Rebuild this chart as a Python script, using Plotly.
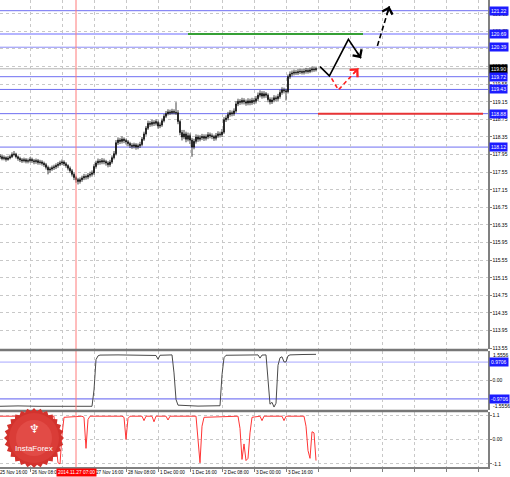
import math
import plotly.graph_objects as go

# ---------------- data (H1 bars, index 0 = 25 Nov 16:00) ----------------
bar_index = list(range(1, 160))
bar_open = [
    117.92, 117.90, 117.86, 117.88, 117.84, 117.87, 117.90, 117.95, 117.96, 117.90,
    117.86, 117.83, 117.81, 117.83, 117.80, 117.81, 117.84, 117.81, 117.79, 117.81,
    117.77, 117.78, 117.75, 117.72, 117.66, 117.60, 117.62, 117.65, 117.67, 117.70,
    117.73, 117.76, 117.78, 117.74, 117.70, 117.64, 117.58, 117.50, 117.43, 117.38,
    117.34, 117.38, 117.42, 117.45, 117.44, 117.48, 117.50, 117.53, 117.68, 117.76,
    117.80, 117.78, 117.81, 117.79, 117.76, 117.72, 117.78, 117.88, 117.97, 118.22,
    118.28, 118.25, 118.30, 118.27, 118.24, 118.20, 118.16, 118.14, 118.17, 118.12,
    118.15, 118.18, 118.30, 118.42, 118.55, 118.66, 118.64, 118.68, 118.66, 118.68,
    118.60, 118.62, 118.72, 118.82, 118.88, 118.92, 118.90, 118.93, 118.91, 118.90,
    118.70, 118.45, 118.35, 118.42, 118.30, 118.38, 118.28, 118.12, 118.25, 118.35,
    118.30, 118.33, 118.36, 118.32, 118.35, 118.40, 118.38, 118.36, 118.32, 118.38,
    118.42, 118.40, 118.46, 118.74, 118.78, 118.86, 118.90, 118.88, 118.94, 119.10,
    119.16, 119.14, 119.18, 119.15, 119.12, 119.17, 119.13, 119.18, 119.16, 119.22,
    119.30, 119.34, 119.28, 119.33, 119.30, 119.20, 119.15, 119.19, 119.24, 119.22,
    119.27, 119.36, 119.42, 119.40, 119.38, 119.72, 119.78, 119.80, 119.82, 119.81,
    119.83, 119.84, 119.82, 119.84, 119.86, 119.84, 119.87, 119.89, 119.88,
]
bar_high = [
    117.96, 117.94, 117.93, 117.91, 117.92, 117.95, 118.00, 118.03, 117.99, 117.93,
    117.90, 117.87, 117.88, 117.87, 117.86, 117.89, 117.88, 117.85, 117.86, 117.85,
    117.83, 117.82, 117.79, 117.76, 117.70, 117.67, 117.70, 117.72, 117.75, 117.78,
    117.81, 117.84, 117.82, 117.78, 117.73, 117.68, 117.62, 117.54, 117.47, 117.42,
    117.43, 117.47, 117.51, 117.50, 117.53, 117.56, 117.59, 117.73, 117.81, 117.86,
    117.85, 117.87, 117.86, 117.83, 117.80, 117.83, 117.93, 118.03, 118.28, 118.34,
    118.33, 118.36, 118.34, 118.31, 118.28, 118.24, 118.21, 118.22, 118.21, 118.20,
    118.24, 118.35, 118.47, 118.60, 118.72, 118.71, 118.74, 118.73, 118.75, 118.72,
    118.68, 118.77, 118.87, 118.94, 118.98, 118.97, 118.99, 118.98, 119.14, 118.96,
    118.74, 118.51, 118.51, 118.47, 118.45, 118.43, 118.33, 118.31, 118.41, 118.40,
    118.39, 118.42, 118.41, 118.41, 118.46, 118.45, 118.43, 118.40, 118.44, 118.48,
    118.47, 118.53, 118.80, 118.84, 118.92, 118.96, 118.95, 119.00, 119.16, 119.22,
    119.21, 119.24, 119.23, 119.20, 119.23, 119.22, 119.24, 119.23, 119.28, 119.36,
    119.41, 119.39, 119.39, 119.37, 119.34, 119.25, 119.25, 119.30, 119.29, 119.33,
    119.42, 119.48, 119.47, 119.45, 119.77, 119.84, 119.86, 119.88, 119.87, 119.89,
    119.90, 119.89, 119.90, 119.92, 119.91, 119.93, 119.95, 119.94, 119.95,
]
bar_low = [
    117.85, 117.82, 117.82, 117.79, 117.81, 117.84, 117.87, 117.91, 117.86, 117.81,
    117.78, 117.76, 117.77, 117.75, 117.75, 117.77, 117.76, 117.73, 117.74, 117.72,
    117.72, 117.70, 117.67, 117.61, 117.50, 117.54, 117.58, 117.60, 117.62, 117.65,
    117.69, 117.71, 117.69, 117.65, 117.59, 117.53, 117.45, 117.37, 117.31, 117.27,
    117.29, 117.33, 117.37, 117.38, 117.39, 117.43, 117.45, 117.49, 117.63, 117.71,
    117.72, 117.73, 117.73, 117.70, 117.66, 117.67, 117.74, 117.84, 117.93, 118.17,
    118.19, 118.20, 118.21, 118.18, 118.14, 118.10, 118.08, 118.09, 118.06, 118.07,
    118.10, 118.14, 118.26, 118.38, 118.51, 118.58, 118.59, 118.60, 118.61, 118.54,
    118.55, 118.58, 118.68, 118.78, 118.84, 118.85, 118.86, 118.86, 118.85, 118.64,
    118.39, 118.27, 118.30, 118.23, 118.25, 118.19, 117.90, 118.07, 118.20, 118.24,
    118.25, 118.28, 118.26, 118.27, 118.30, 118.32, 118.30, 118.26, 118.27, 118.33,
    118.34, 118.35, 118.42, 118.69, 118.73, 118.81, 118.82, 118.83, 118.90, 119.05,
    119.08, 119.09, 119.09, 119.06, 119.07, 119.07, 119.08, 119.10, 119.11, 119.17,
    119.25, 119.22, 119.23, 119.24, 119.14, 119.09, 119.10, 119.14, 119.16, 119.17,
    119.22, 119.31, 119.34, 119.18, 119.34, 119.67, 119.73, 119.75, 119.76, 119.76,
    119.78, 119.77, 119.77, 119.79, 119.79, 119.80, 119.82, 119.83, 119.84,
]
bar_close = [
    117.90, 117.86, 117.88, 117.84, 117.87, 117.90, 117.95, 117.96, 117.90, 117.86,
    117.83, 117.81, 117.83, 117.80, 117.81, 117.84, 117.81, 117.79, 117.81, 117.77,
    117.78, 117.75, 117.72, 117.66, 117.60, 117.62, 117.65, 117.67, 117.70, 117.73,
    117.76, 117.78, 117.74, 117.70, 117.64, 117.58, 117.50, 117.43, 117.38, 117.34,
    117.38, 117.42, 117.45, 117.44, 117.48, 117.50, 117.53, 117.68, 117.76, 117.80,
    117.78, 117.81, 117.79, 117.76, 117.72, 117.78, 117.88, 117.97, 118.22, 118.28,
    118.25, 118.30, 118.27, 118.24, 118.20, 118.16, 118.14, 118.17, 118.12, 118.15,
    118.18, 118.30, 118.42, 118.55, 118.66, 118.64, 118.68, 118.66, 118.70, 118.60,
    118.62, 118.72, 118.82, 118.88, 118.92, 118.90, 118.93, 118.91, 118.90, 118.70,
    118.45, 118.35, 118.42, 118.30, 118.38, 118.28, 118.12, 118.25, 118.35, 118.30,
    118.33, 118.36, 118.32, 118.35, 118.40, 118.38, 118.36, 118.32, 118.38, 118.42,
    118.40, 118.46, 118.74, 118.78, 118.86, 118.90, 118.88, 118.94, 119.10, 119.16,
    119.14, 119.18, 119.15, 119.12, 119.17, 119.13, 119.18, 119.16, 119.22, 119.30,
    119.34, 119.28, 119.33, 119.30, 119.20, 119.15, 119.19, 119.24, 119.22, 119.27,
    119.36, 119.42, 119.40, 119.38, 119.72, 119.78, 119.80, 119.82, 119.81, 119.83,
    119.84, 119.82, 119.84, 119.86, 119.84, 119.87, 119.89, 119.88, 119.90,
]

price_ticks = [113.55, 113.95, 114.35, 114.75, 115.15, 115.55, 115.95, 116.35, 116.75, 117.15,
               117.55, 117.95, 118.35, 118.75, 119.15, 119.55, 119.95, 120.35, 120.75, 121.15]

level_prices = [121.22, 120.69, 120.39, 119.90, 119.72, 119.43, 118.88, 118.12]
level_colors = ["#6e6ef2", "#b4b4ff", "#8c8cf6", "#b4b4b4", "#6e6ef2", "#6e6ef2", "#6e6ef2", "#6e6ef2"]
level_widths = [1, 2, 1, 1, 1, 1, 1, 1]
level_label_bg = ["#1c1cff", "#1c1cff", "#1c1cff", "#000000", "#1c1cff", "#1c1cff", "#1c1cff", "#1c1cff"]

green_level, green_from, green_to = 120.69, 95, 182.5
red_level, red_from, red_to = 118.88, 160, 242.5

fc_solid_index = [161.0, 165.7, 175.2, 181.5]
fc_solid_price = [119.95, 119.74, 120.57, 120.14]
fc_red_index = [166.8, 170.2, 180.2]
fc_red_price = [119.68, 119.42, 119.91]
fc_dash_index = [189.7, 195.7]
fc_dash_price = [120.42, 121.32]

osc_index = [1, 10, 20, 30, 40, 47, 48, 49, 50, 51, 60, 70, 79, 80, 81, 87, 88, 89, 90, 100,
             111, 112, 113, 114, 125, 130, 131, 132, 134, 135, 136, 137, 138, 139, 140,
             141, 142, 143, 144, 145, 146, 152, 159]
osc_value = [-1.36, -1.34, -1.36, -1.35, -1.36, -1.36, -0.50, 1.10, 1.30, 1.34, 1.35, 1.34, 1.32,
             1.12, 1.33, 1.35, 0.40, -1.00, -1.30, -1.35, -1.33, 0.30, 1.20, 1.33, 1.35, 1.35,
             1.18, 1.34, 1.35, 0.15, -1.25, -1.15, -1.40, -1.20, 0.80, 1.20, 1.25, 0.98, 0.98,
             1.30, 1.35, 1.37, 1.38]
osc_levels = [0.9706, -0.9706]
osc_max = 1.5556

red_index = [1, 28, 29, 30, 31, 32, 33, 42, 43, 44, 45, 46, 62, 63, 64, 65, 66, 72, 73, 74,
             77, 78, 79, 84, 85, 86, 99, 100, 101, 102, 103, 120, 121, 122, 123, 124, 125,
             126, 127, 131, 132, 133, 142, 143, 144, 153, 154, 155, 156, 157, 158, 159]
red_value = [1.05, 1.05, -0.20, -1.05, -1.10, 0.20, 1.00, 1.05, 1.00, -0.40, 0.90, 1.05, 1.05,
             1.00, 0.00, 0.95, 1.05, 1.05, 0.85, 1.05, 1.05, 0.80, 1.05, 1.05, 0.88, 1.05, 1.05,
             -0.20, -1.05, 0.60, 1.00, 1.05, 0.50, -0.90, -0.20, -0.95, -0.85, 0.30, 1.00, 1.05,
             0.85, 1.05, 1.05, 0.85, 1.05, 1.05, 0.60, -0.50, -0.85, 0.35, 0.30, -0.95]

date_tick_index = [0, 16, 32, 48, 64, 80, 96, 112, 128, 144]
date_tick_text = ["25 Nov 16:00", "26 Nov 08:00", "27 Nov 00:00", "27 Nov 16:00", "28 Nov 08:00",
                  "1 Dec 00:00", "1 Dec 16:00", "2 Dec 08:00", "3 Dec 00:00", "3 Dec 16:00"]
grid_index = [16, 32, 48, 64, 80, 96, 112, 128, 144, 160, 176, 192, 208, 224, 240]
marker_index = 39
marker_text = "2014.11.27 07:00"

# ---------------- layout geometry ----------------
W, H = 510, 477
X0, X1 = 1, 245
XR = 488 / W
XDOM = [0, XR]
FONT = "Liberation Sans"


def ipaper(i):
    return XDOM[0] + (i - X0) / (X1 - X0) * (XDOM[1] - XDOM[0])


def yp(px):
    return 1 - px / H


grid_style = dict(showgrid=True, gridcolor="#c8c8c8", griddash="dot", gridwidth=1, zeroline=False)

fig = go.Figure()

fig.add_trace(go.Candlestick(
    x=bar_index, open=bar_open, high=bar_high, low=bar_low, close=bar_close,
    increasing=dict(line=dict(color="#111111", width=0.8), fillcolor="#111111"),
    decreasing=dict(line=dict(color="#111111", width=0.8), fillcolor="#111111"),
    whiskerwidth=0, hoverinfo="skip", showlegend=False, xaxis="x", yaxis="y"))

fig.add_trace(go.Scatter(x=fc_solid_index, y=fc_solid_price, mode="lines",
                         line=dict(color="#000000", width=1.6), hoverinfo="skip",
                         showlegend=False, xaxis="x", yaxis="y"))
fig.add_trace(go.Scatter(x=fc_red_index, y=fc_red_price, mode="lines",
                         line=dict(color="#ff2020", width=1.6, dash="4px,3px"), hoverinfo="skip",
                         showlegend=False, xaxis="x", yaxis="y"))
fig.add_trace(go.Scatter(x=fc_dash_index, y=fc_dash_price, mode="lines",
                         line=dict(color="#000000", width=1.6, dash="5px,3px"), hoverinfo="skip",
                         showlegend=False, xaxis="x", yaxis="y"))

fig.add_trace(go.Scatter(x=osc_index, y=osc_value, mode="lines",
                         line=dict(color="#4a4a4a", width=1), hoverinfo="skip",
                         showlegend=False, xaxis="x2", yaxis="y2"))
fig.add_trace(go.Scatter(x=red_index, y=red_value, mode="lines",
                         line=dict(color="#ff3535", width=1), hoverinfo="skip",
                         showlegend=False, xaxis="x3", yaxis="y3"))

shapes = []
for p, c, w in zip(level_prices, level_colors, level_widths):
    shapes.append(dict(type="line", xref="x domain", x0=0, x1=1, yref="y", y0=p, y1=p,
                       line=dict(color=c, width=w), layer="below"))
shapes.append(dict(type="line", xref="x", x0=green_from, x1=green_to, yref="y",
                   y0=green_level, y1=green_level, line=dict(color="#35a035", width=2)))
shapes.append(dict(type="line", xref="x", x0=red_from, x1=red_to, yref="y",
                   y0=red_level, y1=red_level, line=dict(color="#e83434", width=2)))
lv_cols = ["#a8a8ff", "#5c5cf0"]
for p, c in zip(osc_levels, lv_cols):
    shapes.append(dict(type="line", xref="x2 domain", x0=0, x1=1, yref="y2", y0=p, y1=p,
                       line=dict(color=c, width=1), layer="below"))
shapes.append(dict(type="line", xref="x", x0=marker_index, x1=marker_index, yref="paper",
                   y0=yp(467), y1=1, line=dict(color="#ff7a7a", width=1)))
for py in (350, 411):
    shapes.append(dict(type="line", xref="paper", x0=0, x1=XR, yref="paper", y0=yp(py), y1=yp(py),
                       line=dict(color="#777777", width=2.5)))

# logo badge (decoration)
cx, cy, r_out, r_in, teeth = 34, 438, 30, 27, 28
pts = []
for k in range(teeth * 2):
    a = math.pi * k / teeth
    r = r_out if k % 2 == 0 else r_in
    pts.append(((cx + r * math.cos(a)) / W, 1 - (cy + r * math.sin(a)) / H))
path = "M " + " L ".join(f"{x:.5f},{y:.5f}" for x, y in pts) + " Z"
shapes.append(dict(type="path", xref="paper", yref="paper", path=path,
                   fillcolor="#d2322d", line=dict(width=0), layer="above"))
for rr, col in ((25, "#da3c37"), (18, "#e24b46")):
    shapes.append(dict(type="circle", xref="paper", yref="paper",
                       x0=(cx - rr) / W, x1=(cx + rr) / W, y0=1 - (cy + rr) / H, y1=1 - (cy - rr) / H,
                       fillcolor=col, line=dict(width=0), layer="above"))

ann = []
for p, bg in zip(level_prices, level_label_bg):
    ann.append(dict(xref="paper", x=489 / W, xanchor="left", yref="y", y=p, yanchor="middle",
                    text=f"{p:.2f}", showarrow=False, bgcolor=bg, borderpad=1,
                    font=dict(color="#ffffff", size=5, family=FONT)))
for p in osc_levels:
    ann.append(dict(xref="paper", x=489 / W, xanchor="left", yref="y2", y=p, yanchor="middle",
                    text=f"{p:.4f}", showarrow=False, bgcolor="#1c1cff", borderpad=1,
                    font=dict(color="#ffffff", size=5, family=FONT)))
for v, sh in ((osc_max, -4), (-osc_max, 4)):
    ann.append(dict(xref="paper", x=491 / W, xanchor="left", yref="y2", y=v, yshift=sh,
                    yanchor="middle", text=f"{v:.4f}", showarrow=False,
                    font=dict(color="#000000", size=5, family=FONT)))
for i, t in zip(date_tick_index, date_tick_text):
    ann.append(dict(xref="paper", x=ipaper(i), xshift=-0.5, xanchor="left", yref="paper",
                    y=yp(472), yanchor="middle", text=t, showarrow=False,
                    font=dict(color="#000000", size=4.6, family=FONT)))
ann.append(dict(xref="paper", x=ipaper(marker_index), xanchor="center", yref="paper", y=yp(472),
                yanchor="middle", text=marker_text, showarrow=False, bgcolor="#ff0000", borderpad=1,
                font=dict(color="#ffffff", size=4.8, family=FONT)))


def arrow(xs, ys, color, frac):
    tx, ty = xs[-1], ys[-1]
    bx = tx + frac * (xs[-2] - tx)
    by = ty + frac * (ys[-2] - ty)
    return dict(xref="x", yref="y", x=tx, y=ty, axref="x", ayref="y", ax=bx, ay=by, text="",
                showarrow=True, arrowhead=4, arrowsize=1.3, arrowwidth=1.6, arrowcolor=color,
                standoff=0)


ann.append(arrow(fc_solid_index, fc_solid_price, "#000000", 0.4))
ann.append(arrow(fc_red_index, fc_red_price, "#ff2020", 0.3))
ann.append(arrow(fc_dash_index, fc_dash_price, "#000000", 0.25))

ann.append(dict(xref="paper", x=cx / W, xanchor="center", yref="paper", y=yp(429), yanchor="middle",
                text="♆", showarrow=False, font=dict(color="#ffffff", size=12, family="DejaVu Sans")))
ann.append(dict(xref="paper", x=cx / W, xanchor="center", yref="paper", y=yp(448), yanchor="middle",
                text="InstaForex", showarrow=False, font=dict(color="#ffffff", size=8, family=FONT)))

xbase = dict(domain=XDOM, range=[X0, X1], tickmode="array", tickvals=grid_index,
             showticklabels=False, rangeslider=dict(visible=False), fixedrange=True, **grid_style)
ybase = dict(side="right", ticks="outside", ticklen=2, tickcolor="#808080", showline=True,
             linecolor="#808080", linewidth=1.5, tickfont=dict(size=5, family=FONT, color="#000000"),
             fixedrange=True, **grid_style)

fig.update_layout(
    width=W, height=H, margin=dict(l=0, r=0, t=0, b=0, pad=0, autoexpand=False),
    paper_bgcolor="#ffffff", plot_bgcolor="#ffffff", showlegend=False, hovermode=False,
    xaxis=dict(anchor="y", **xbase),
    xaxis2=dict(anchor="y2", matches="x", **xbase),
    xaxis3=dict(anchor="y3", matches="x", ticks="outside", ticklen=3, tickcolor="#808080",
                showline=True, linecolor="#808080", linewidth=1.5, **xbase),
    yaxis=dict(anchor="x", domain=[yp(349), 1], range=[113.531, 121.463], tickmode="array",
               tickvals=price_ticks, ticktext=[f"{v:.2f}" for v in price_ticks], **ybase),
    yaxis2=dict(anchor="x2", domain=[yp(410), yp(351)], range=[-osc_max, osc_max], tickmode="array",
                tickvals=[0], ticktext=["0.00"], **ybase),
    yaxis3=dict(anchor="x3", domain=[yp(467), yp(412)], range=[-1.24, 1.24], tickmode="array",
                tickvals=[1.1, 0, -1.1], ticktext=["1.1", "0.00", "-1.1"], **ybase),
    shapes=shapes, annotations=ann,
)

fig.write_html("out.html", config={"displayModeBar": False, "staticPlot": True},
               post_script="document.body.style.margin='0';document.body.style.overflow='hidden';")
